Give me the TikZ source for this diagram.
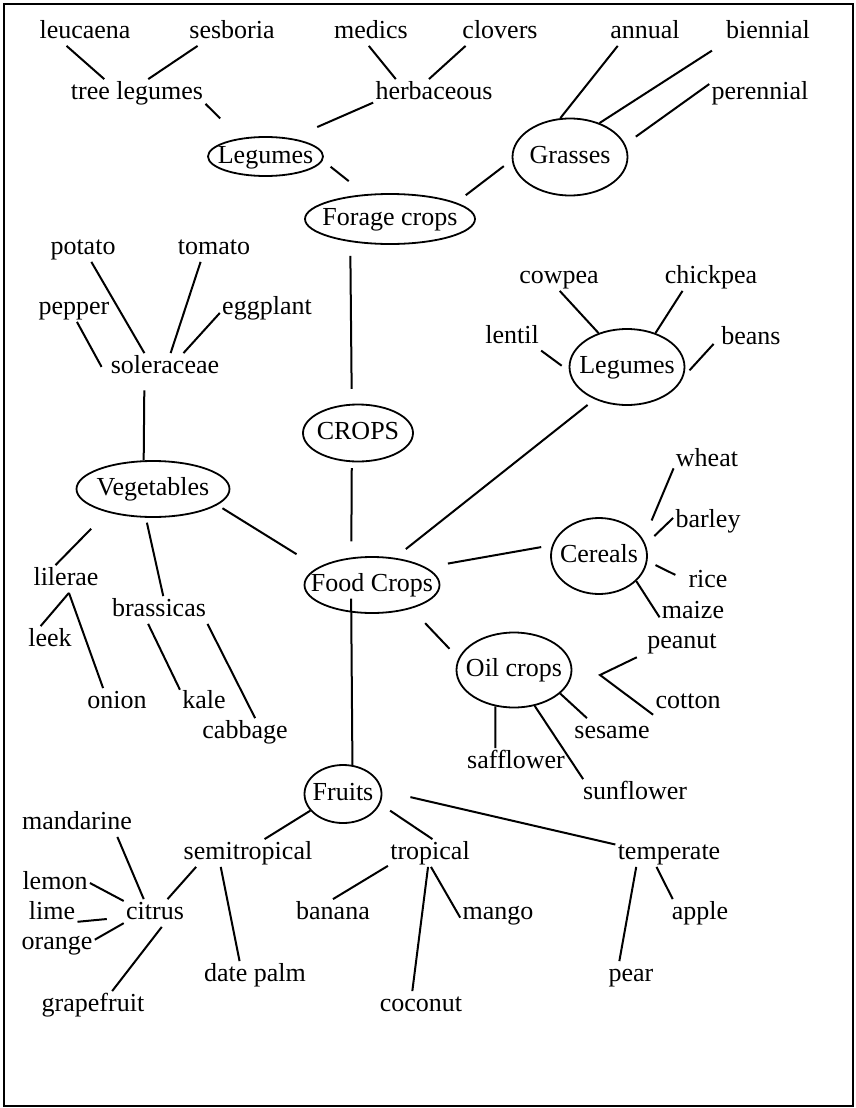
\documentclass[tikz,border=0pt]{standalone}
\usepackage{fontspec}
\setmainfont{Liberation Serif}
\usetikzlibrary{shapes.geometric}
\newcommand{\ovaltext}[1]{\makebox[0pt]{#1}}

\begin{document}
\begin{tikzpicture}[x=0.5pt,y=-0.5pt,
    word/.style={font=\fontsize{13}{15}\selectfont,inner sep=1pt,text height=9pt,text depth=2.5pt},
    oval/.style={ellipse,draw,line width=0.9pt,inner sep=0pt,font=\fontsize{13}{15}\selectfont,text height=9pt,text depth=2.5pt},
    link/.style={line width=1pt}]

\useasboundingbox (0,0) rectangle (856,1108);

        % draw the frame
        \draw[line width=1pt] (4,4) rectangle (853,1106);

        % draw the ovals
        \node[oval,minimum width=57.5pt,minimum height=19.5pt] (forlegumes) at (265.5,156.5) {\ovaltext{Legumes}};
        \node[oval,minimum width=57.5pt,minimum height=38.5pt] (grasses) at (570,157) {\ovaltext{Grasses}};
        \node[oval,minimum width=85pt,minimum height=25pt] (forage) at (390,219) {\ovaltext{Forage crops}};
        \node[oval,minimum width=55pt,minimum height=28.5pt] (crops) at (358,433) {\ovaltext{CROPS}};
        \node[oval,minimum width=57.5pt,minimum height=38pt] (foodlegumes) at (627,367) {\ovaltext{Legumes}};
        \node[oval,minimum width=76.5pt,minimum height=28pt] (veg) at (153,489) {\ovaltext{Vegetables}};
        \node[oval,minimum width=48pt,minimum height=38pt] (cereals) at (599,556) {\ovaltext{Cereals}};
        \node[oval,minimum width=67.5pt,minimum height=28pt] (food) at (372,585) {\ovaltext{Food Crops}};
        \node[oval,minimum width=57.5pt,minimum height=37.5pt] (oil) at (514,670) {\ovaltext{Oil crops}};
        \node[oval,minimum width=38.5pt,minimum height=29pt] (fruits) at (343,794) {\ovaltext{Fruits}};

        % forage words
        \node[word] (leucaena) at (85,32) {leucaena};
        \node[word] (sesboria) at (232,32) {sesboria};
        \node[word] (medics) at (371,32) {medics};
        \node[word] (clovers) at (500,32) {clovers};
        \node[word] (annual) at (645,32) {annual};
        \node[word] (biennial) at (768,32) {biennial};
        \node[word] (treelegumes) at (137,93) {tree legumes};
        \node[word] (herbaceous) at (434,93) {herbaceous};
        \node[word] (perennial) at (760,93) {perennial};

        % vegetable words
        \node[word] (potato) at (83,248) {potato};
        \node[word] (tomato) at (214,248) {tomato};
        \node[word] (pepper) at (74,308) {pepper};
        \node[word] (eggplant) at (267,308) {eggplant};
        \node[word] (soleraceae) at (165,367) {soleraceae};
        \node[word] (lilerae) at (66,579) {lilerae};
        \node[word] (brassicas) at (159,610) {brassicas};
        \node[word] (leek) at (50,640) {leek};
        \node[word] (onion) at (117,702) {onion};
        \node[word] (kale) at (204,702) {kale};
        \node[word] (cabbage) at (245,732) {cabbage};

        % legumes, cereals and oil crops words
        \node[word] (cowpea) at (559,277) {cowpea};
        \node[word] (chickpea) at (711,277) {chickpea};
        \node[word] (lentil) at (512,337) {lentil};
        \node[word] (beans) at (751,338) {beans};
        \node[word] (wheat) at (707,460) {wheat};
        \node[word] (barley) at (708,521) {barley};
        \node[word] (rice) at (708,581) {rice};
        \node[word] (maize) at (693,612) {maize};
        \node[word] (peanut) at (682,642) {peanut};
        \node[word] (cotton) at (688,702) {cotton};
        \node[word] (sesame) at (612,732) {sesame};
        \node[word] (safflower) at (516,762) {safflower};
        \node[word] (sunflower) at (635,793) {sunflower};

        % fruit words
        \node[word] (mandarine) at (77,823) {mandarine};
        \node[word] (semitropical) at (248,853) {semitropical};
        \node[word] (tropical) at (430,853) {tropical};
        \node[word] (temperate) at (669,853) {temperate};
        \node[word] (lemon) at (55,883) {lemon};
        \node[word] (lime) at (52,913) {lime};
        \node[word] (citrus) at (155,913) {citrus};
        \node[word] (orange) at (57,943) {orange};
        \node[word] (banana) at (333,913) {banana};
        \node[word] (mango) at (498,913) {mango};
        \node[word] (apple) at (700,913) {apple};
        \node[word] (datepalm) at (255,975) {date palm};
        \node[word] (pear) at (631,975) {pear};
        \node[word] (grapefruit) at (93,1005) {grapefruit};
        \node[word] (coconut) at (421,1005) {coconut};
        \coordinate (fork) at (600,675);

        % draw the forage branch
        \draw[link] (leucaena.-143) -- (treelegumes.157);
        \draw[link] (sesboria.-158) -- (treelegumes.51);
        \draw[link] (medics.-99) -- (herbaceous.160);
        \draw[link] (clovers.-158) -- (herbaceous.110);
        \draw[link,shorten >=14pt] (treelegumes.-9) -- (forlegumes.144);
        \draw[link,shorten >=14pt] (herbaceous.-171) -- (forlegumes.35);
        \draw[link,shorten <=5pt,shorten >=10.5pt] (forlegumes.-4) -- (forage.135);
        \draw[link,shorten <=5pt,shorten >=6pt] (grasses.183) -- (forage.14);
        \draw[link] (annual.-153) -- (grasses.104);
        \draw[link,shorten <=7pt] (biennial.-166) -- (grasses.49);
        \draw[link,shorten >=6.5pt] (perennial.170) -- (grasses.13);
        \draw[link,shorten <=7pt,shorten >=7.5pt] (forage.-150) -- (crops.102);
        \draw[link,shorten <=3pt,shorten >=8pt] (crops.-102) -- (food.127);

        % draw the vegetables
        \draw[link] (potato.-59) -- (soleraceae.146);
        \draw[link] (tomato.-134) -- (soleraceae.68);
        \draw[link] (eggplant.-174) -- (soleraceae.37);
        \draw[link,shorten >=8pt] (pepper.-78) -- (soleraceae.-166);
        \draw[link,shorten <=4.75pt] (soleraceae.-146) -- (veg.108);
        \draw[link,shorten <=3pt,shorten >=12.5pt] (veg.-14) -- (food.162);
        \draw[link,shorten <=11.5pt] (veg.-153) -- (lilerae.127);
        \draw[link,shorten <=2.5pt] (veg.-104) -- (brassicas.73);
        \draw[link] (lilerae.-78) -- (leek.124);
        \draw[link] (lilerae.-78) -- (onion.135);
        \draw[link] (brassicas.-128) -- (kale.153);
        \draw[link] (brassicas.-16) -- (cabbage.54);

        % legumes, cereals, oil crops
        \draw[link,shorten <=4.5pt,shorten >=7pt] (foodlegumes.-135) -- (food.50);
        \draw[link] (cowpea.-87) -- (foodlegumes.130);
        \draw[link] (chickpea.-154) -- (foodlegumes.50);
        \draw[link,shorten >=4.5pt] (lentil.-25) -- (foodlegumes.-176);
        \draw[link,shorten <=4pt,shorten >=4.5pt] (beans.180) -- (foodlegumes.-10);
        \draw[link,shorten <=5.5pt,shorten >=11pt] (cereals.167) -- (food.18);
        \draw[link,shorten >=10.5pt] (wheat.-166) -- (cereals.20);
        \draw[link,shorten >=6pt] (barley.175) -- (cereals.14);
        \draw[link,shorten <=6pt,shorten >=4.5pt] (rice.178) -- (cereals.-6);
        \draw[link] (maize.-171) -- (cereals.-34);
        \draw[link,shorten <=10pt,shorten >=6.5pt] (food.-31) -- (oil.168);
        \draw[link,shorten <=4.5pt] (peanut.-163) -- (fork) -- (cotton.-160);
        \draw[link] (oil.-27) -- (sesame.151);
        \draw[link] (oil.-117) -- (safflower.146);
        \draw[link] (oil.-60) -- (sunflower.165);

        % draw the fruits
        \draw[link,shorten <=-7pt] (food.-127) -- (fruits.72);
        \draw[link] (fruits.-153) -- (semitropical.40);
        \draw[link,shorten <=6pt] (fruits.-15) -- (tropical.80);
        \draw[link,shorten <=14.5pt] (fruits.5) -- (temperate.171);
        \draw[link] (semitropical.-165) -- (citrus.48);
        \draw[link] (semitropical.-153) -- (datepalm.138);
        \draw[link] (mandarine.-19) -- (citrus.129);
        \draw[link] (lemon.0) -- (citrus.159);
        \draw[link,shorten >=8.5pt] (lime.-19) -- (citrus.-172);
        \draw[link] (orange.5) -- (citrus.-162);
        \draw[link] (citrus.-64) -- (grapefruit.36);
        \draw[link] (tropical.-163) -- (banana.north);
        \draw[link] (tropical.-98) -- (coconut.122);
        \draw[link] (tropical.-86) -- (mango.-173);
        \draw[link] (temperate.-157) -- (pear.130);
        \draw[link] (temperate.-132) -- (apple.153);
\end{tikzpicture}
\end{document}
